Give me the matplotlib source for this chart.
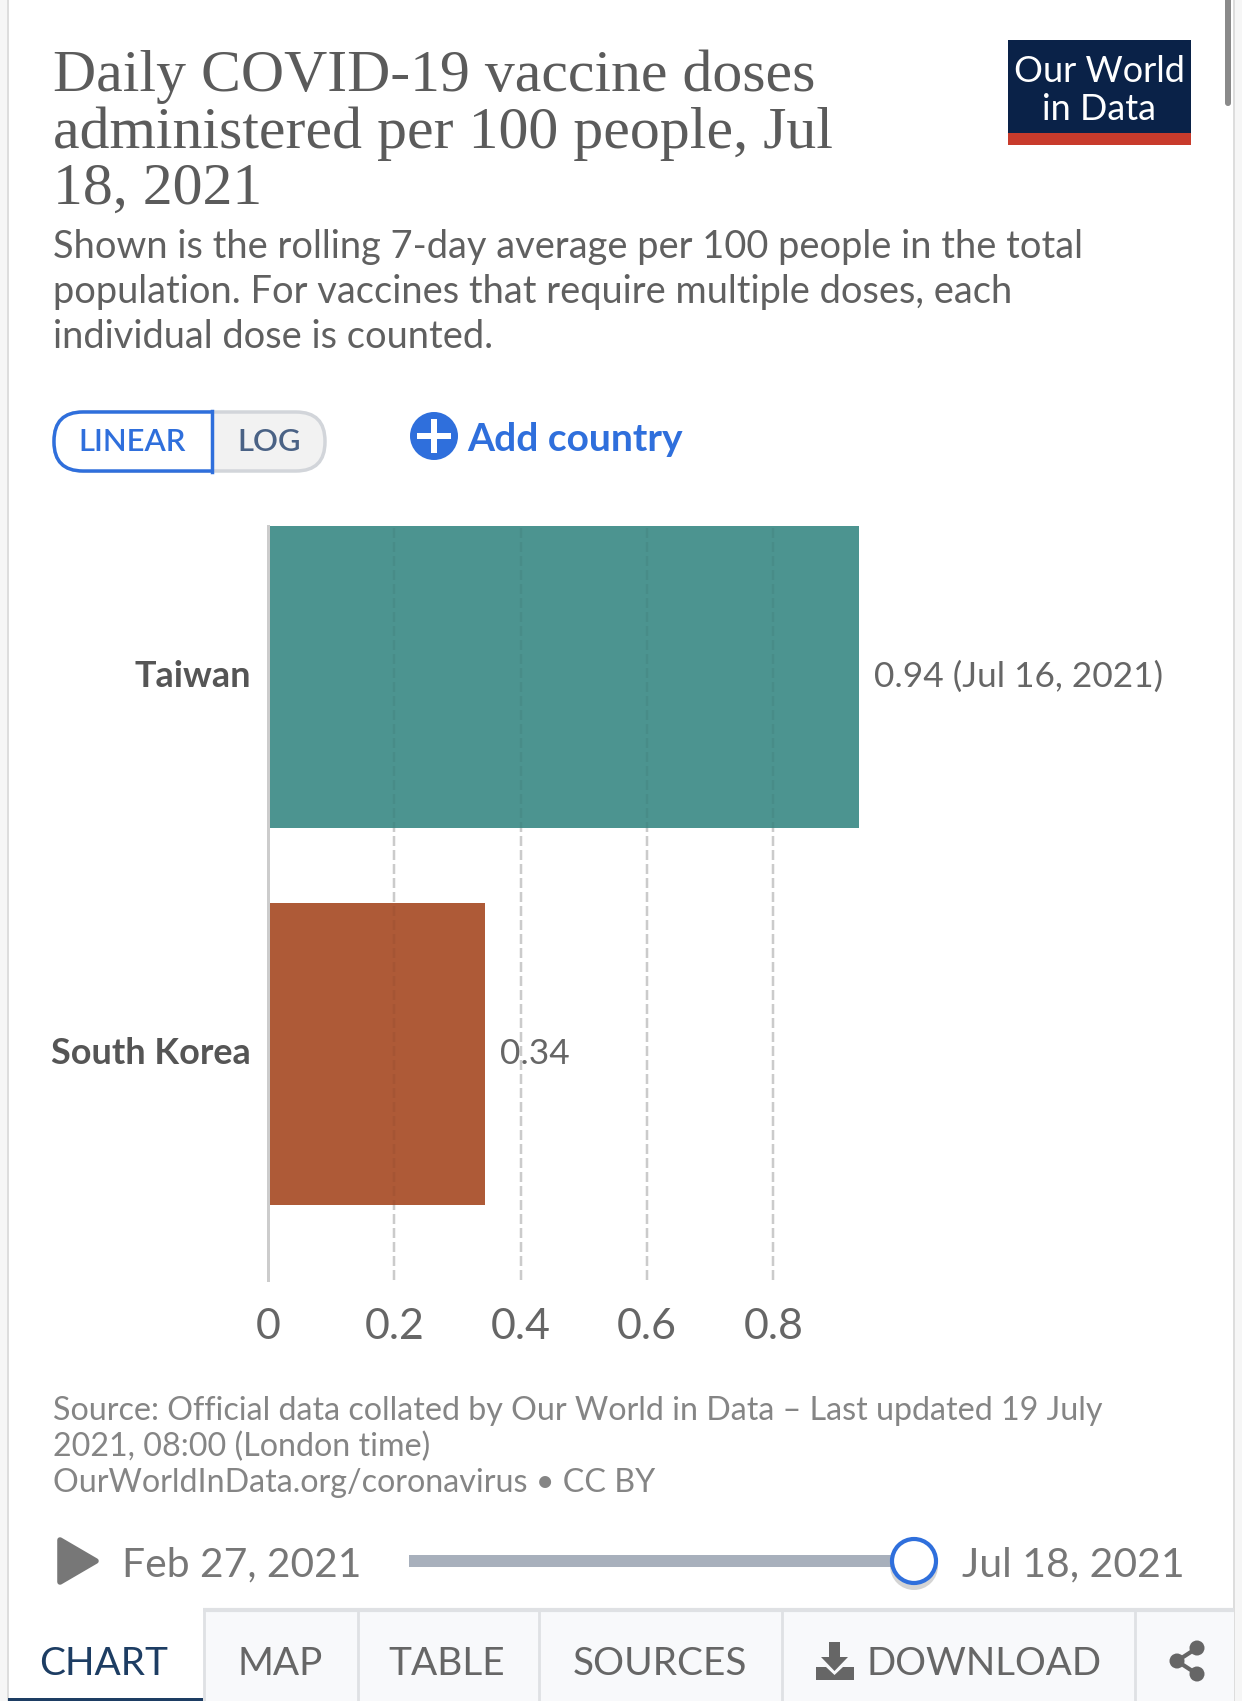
import matplotlib
matplotlib.use("Agg")
import matplotlib.pyplot as plt
from matplotlib.patches import Rectangle, Circle, Polygon, FancyBboxPatch
from matplotlib.transforms import ScaledTranslation

countries = ["Taiwan", "South Korea"]
doses = [0.936, 0.343]
bar_colors = ["#4c9490", "#ae5a37"]
value_labels = ["0.94 (Jul 16, 2021)", "0.34"]
tick_values = [0, 0.2, 0.4, 0.6, 0.8]
tick_labels = ["0", "0.2", "0.4", "0.6", "0.8"]

title_lines = ["Daily COVID-19 vaccine doses", "administered per 100 people, Jul", "18, 2021"]
subtitle_lines = ["Shown is the rolling 7-day average per 100 people in the total",
                  "population. For vaccines that require multiple doses, each",
                  "individual dose is counted."]
source_lines = ["Source: Official data collated by Our World in Data – Last updated 19 July",
                "2021, 08:00 (London time)",
                "OurWorldInData.org/coronavirus • CC BY"]
tabs = [("MAP", 280), ("TABLE", 447), ("SOURCES", 660)]

BLUE = "#2f6fdc"
W, H = 1242, 1701
PX = 0.72  # px to pt at dpi 100

plt.rcParams["font.family"] = ["Lato", "DejaVu Sans"]
fig = plt.figure(figsize=(W / 100, H / 100), dpi=100, facecolor="white")

# page furniture is drawn in pixel coordinates
bg = fig.add_axes([0, 0, 1, 1], zorder=0)
bg.set_xlim(0, W)
bg.set_ylim(H, 0)
bg.axis("off")


def label(x, y, s, size, color="#5b5b5b", **kw):
    kw.setdefault("va", "baseline")
    bg.text(x, y, s, fontsize=size * PX, color=color, **kw)


# card edges and scrollbar
bg.add_patch(Rectangle((0, 0), 8, H, fc="#f6f6f6", ec="none"))
bg.add_patch(Rectangle((7, 0), 2, H, fc="#dddddd", ec="none"))
bg.add_patch(Rectangle((1234, 0), 8, H, fc="#f6f6f6", ec="none"))
bg.add_patch(Rectangle((1233, 0), 2, H, fc="#dddddd", ec="none"))
bg.add_patch(FancyBboxPatch((1225, -10), 6, 116, boxstyle="round,pad=0,rounding_size=3",
                            fc="#8a8a8a", ec="none"))

# title block
for line, y in zip(title_lines, [91, 148, 204]):
    label(53, y, line, 59.8, family="Liberation Serif")
for line, y in zip(subtitle_lines, [258, 303, 348]):
    label(53, y, line, 38, color="#606060")

# logo
bg.add_patch(Rectangle((1008, 40), 183, 94, fc="#0a2248", ec="none"))
bg.add_patch(Rectangle((1008, 133), 183, 12, fc="#c83b2c", ec="none"))
label(1099, 71, "Our World", 36, color="white", ha="center", va="center")
label(1099, 110, "in Data", 36, color="white", ha="center", va="center")

# linear / log switch
bg.add_patch(FancyBboxPatch((54, 412), 271, 59, boxstyle="round,pad=0,rounding_size=29",
                            fc="#f2f2f2", ec="#d2d5da", lw=2.5))
bg.add_patch(Rectangle((190, 412), 22, 59, fc="white", ec="none"))
pill = FancyBboxPatch((54, 412), 220, 59, boxstyle="round,pad=0,rounding_size=29",
                      fc="white", ec=BLUE, lw=2.5)
bg.add_patch(pill)
pill.set_clip_path(Rectangle((50, 405), 162, 72, transform=bg.transData))
bg.plot([212, 212], [411, 472], color=BLUE, lw=2.5)
label(132, 442, "LINEAR", 31, color=BLUE, ha="center", va="center", weight="semibold")
label(269, 442, "LOG", 31, color="#4a6285", ha="center", va="center", weight="semibold")

# add country
bg.add_patch(Circle((434, 436), 24, fc=BLUE, ec="none"))
bg.add_patch(Rectangle((417, 433), 34, 6, fc="white", ec="none"))
bg.add_patch(Rectangle((431, 419), 6, 34, fc="white", ec="none"))
label(467, 451, "Add country", 39, color=BLUE, weight="bold")

# chart
ax = fig.add_axes([267.8 / W, 1 - 1280 / H, 632 / W, 754 / H], zorder=1)
ax.patch.set_alpha(0)
y_pos = [1, 0]
ax.barh(y_pos, doses, height=0.8, color=bar_colors, zorder=2)
ax.set_xlim(0, 1)
ax.set_ylim(-0.6, 1.4)
for t in tick_values[1:]:
    ax.axvline(t, color="#d6d6d6", lw=2.5 * PX, ls=(0, (4, 1.6)), zorder=1)
    ax.axvline(t, color="black", alpha=0.05, lw=2.5 * PX, ls=(0, (4, 1.6)), zorder=3)
for s in ["top", "right", "bottom"]:
    ax.spines[s].set_visible(False)
ax.spines["left"].set_color("#cccccc")
ax.spines["left"].set_linewidth(3 * PX)
ax.set_xticks(tick_values, tick_labels, fontsize=43 * PX, color="#666666")
ax.set_yticks(y_pos, countries, fontsize=36 * PX, color="#555555", weight="bold")
ax.tick_params(axis="x", length=0, pad=28 * PX)
ax.tick_params(axis="y", length=0, pad=17 * PX)
for tl in ax.get_yticklabels():
    tl.set_transform(tl.get_transform() + ScaledTranslation(0, 3.5 / 100, fig.dpi_scale_trans))
for y, v, s in zip(y_pos, doses, value_labels):
    ax.annotate(s, (v, y), xytext=(15 * PX, 0), textcoords="offset points",
                va="center", fontsize=35.3 * PX, color="#666666", zorder=4)

# source
for line, y in zip(source_lines, [1420, 1456, 1492]):
    label(53, y, line, 32.3, color="#858585")

# timeline
bg.add_patch(Polygon([[60, 1540], [60, 1582], [96, 1561]], closed=True, fc="#777777",
                     ec="#777777", lw=4, joinstyle="round"))
label(122, 1576, "Feb 27, 2021", 40.7, color="#777777")
bg.add_patch(Rectangle((409, 1555), 490, 12, fc="#a8b0bc", ec="none"))
bg.add_patch(Circle((914, 1566), 24, fc="#555555", ec="none", alpha=0.25))
bg.add_patch(Circle((914, 1561), 22, fc="white", ec=BLUE, lw=3))
label(962, 1576, "Jul 18, 2021", 41, color="#777777")

# tabs
bg.add_patch(Rectangle((203, 1611), 1031, 90, fc="#f8f9fb", ec="none"))
bg.plot([203, 1234], [1610, 1610], color="#dfe1e4", lw=3, solid_capstyle="butt")
for x in [204, 358, 539, 782, 1135]:
    bg.plot([x, x], [1610, H], color="#dfe1e4", lw=2)
bg.add_patch(Rectangle((8, 1698), 195, 3, fc="#1d3d63", ec="none"))
label(104, 1664, "CHART", 38.7, color="#1d3d63", ha="center", va="center")
for name, x in tabs:
    label(x, 1664, name, 38.7, color="#666666", ha="center", va="center")
label(866, 1664, "DOWNLOAD", 38.5, color="#666666", ha="left", va="center")

# download icon
bg.add_patch(Polygon([[829, 1642], [840, 1642], [840, 1657], [848, 1657], [834.5, 1671],
                      [821, 1657], [829, 1657]], closed=True, fc="#666666", ec="none"))
bg.add_patch(Polygon([[816, 1667], [826, 1667], [834.5, 1675], [843, 1667], [854, 1667],
                      [854, 1680], [816, 1680]], closed=True, fc="#666666", ec="none"))

# share icon
nodes = [(1197, 1648), (1177, 1661), (1197, 1674)]
bg.plot([n[0] for n in nodes], [n[1] for n in nodes], color="#666666", lw=3)
for n in nodes:
    bg.add_patch(Circle(n, 7.5, fc="#666666", ec="none"))

fig.savefig("out.png", dpi=100)
